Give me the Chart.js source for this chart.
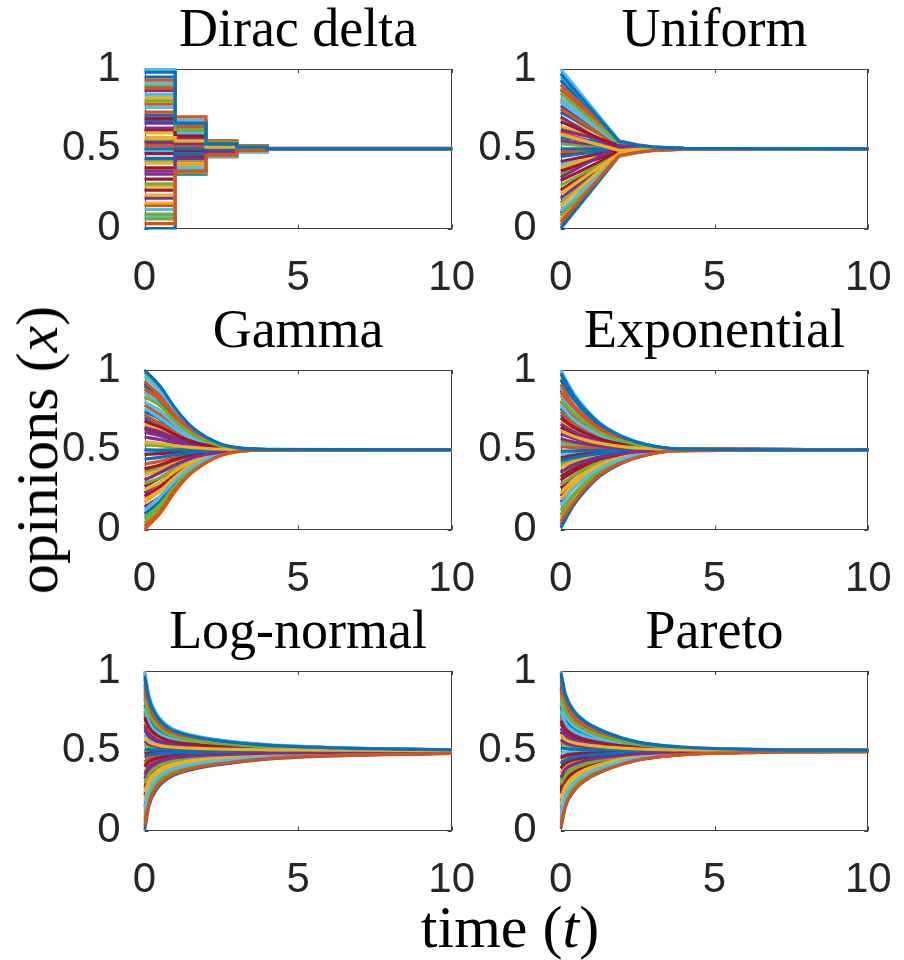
<!DOCTYPE html>
<html>
<head>
<meta charset="utf-8">
<script src="https://cdn.jsdelivr.net/npm/chart.js@4.4.1/dist/chart.umd.min.js"></script>
<style>
  body { margin: 0; background: #fff; }
  #page { position: relative; width: 904px; height: 960px; overflow: hidden; background: #fff; }
  .panel { position: absolute; }
  .axis-label { position: absolute; font-family: 'Liberation Serif', serif; font-size: 60px; color: #000; white-space: nowrap; line-height: 1; }
  #ylabel { left: 37px; top: 450px; transform: translate(-50%, -50%) rotate(-90deg); }
  #xlabel { left: 510px; top: 897px; transform: translateX(-50%); }
</style>
</head>
<body>
<div id="page">
  <div class="panel" style="left:0px;top:0px"><canvas id="c_dirac" width="480" height="300"></canvas></div>
  <div class="panel" style="left:480px;top:0px"><canvas id="c_uniform" width="424" height="300"></canvas></div>
  <div class="panel" style="left:0px;top:301px"><canvas id="c_gamma" width="480" height="300"></canvas></div>
  <div class="panel" style="left:480px;top:301px"><canvas id="c_exp" width="424" height="300"></canvas></div>
  <div class="panel" style="left:0px;top:602px"><canvas id="c_lognormal" width="480" height="300"></canvas></div>
  <div class="panel" style="left:480px;top:602px"><canvas id="c_pareto" width="424" height="300"></canvas></div>
  <div class="axis-label" id="ylabel">opinions (<i>x</i>)</div>
  <div class="axis-label" id="xlabel">time (<i>t</i>)</div>
</div>
<script>
// matlab default line colour order
var lineColors = ['#0072BD', '#D95319', '#EDB120', '#7E2F8E', '#77AC30', '#4DBEEE', '#A2142F'];

var xTicks = [0, 5, 10];
var yTicks = [0, 0.5, 1];

// Dirac delta: opinions jump once per unit of time
var diracTimes = [0, 1, 2, 3, 4, 10];
var diracLines = [
  [.98, .66, .53, .51, .5, .5], [.03, .36, .46, .49, .5, .5], [.57, .55, .51, .5, .5, .5],
  [.34, .44, .48, .495, .5, .5], [.80, .62, .54, .515, .501, .5], [.12, .38, .455, .485, .5, .5],
  [.69, .58, .52, .505, .5, .5], [.44, .47, .49, .497, .5, .5], [.93, .70, .55, .52, .502, .5],
  [.21, .41, .47, .49, .5, .5], [.63, .56, .525, .508, .5, .5], [.06, .35, .45, .483, .499, .5],
  [.76, .60, .535, .512, .5, .5], [.38, .45, .485, .496, .5, .5], [.50, .50, .50, .50, .5, .5],
  [.88, .64, .545, .518, .501, .5], [.16, .39, .462, .487, .5, .5], [.66, .57, .515, .506, .5, .5],
  [.28, .43, .475, .492, .5, .5], [1.0, .68, .55, .52, .502, .5], [.47, .49, .497, .499, .5, .5],
  [.00, .34, .45, .48, .499, .5], [.73, .59, .53, .51, .5, .5], [.41, .46, .488, .497, .5, .5],
  [.54, .53, .505, .502, .5, .5], [.09, .37, .458, .484, .5, .5], [.84, .63, .54, .514, .501, .5],
  [.24, .42, .472, .49, .5, .5], [.95, .67, .548, .519, .501, .5], [.52, .51, .502, .5, .5, .5],
  [.60, .54, .512, .504, .5, .5], [.19, .40, .466, .488, .5, .5], [.55, .52, .508, .503, .5, .5],
  [.91, .65, .542, .516, .501, .5], [.31, .44, .478, .493, .5, .5], [.71, .61, .528, .509, .5, .5],
  [.145, .385, .46, .487, .5, .5], [.265, .425, .474, .491, .5, .5], [.36, .455, .483, .494, .5, .5],
  [.425, .475, .492, .498, .5, .5], [.485, .495, .499, .5, .5, .5], [.615, .545, .513, .505, .5, .5],
  [.675, .575, .522, .507, .5, .5], [.78, .605, .537, .513, .5, .5], [.82, .625, .541, .514, .501, .5],
  [.865, .645, .544, .517, .501, .5], [.895, .655, .546, .518, .501, .5], [.075, .355, .452, .484, .499, .5]
];

// Uniform: straight lines into a waist near t = 1.9
var uniformTimes = [0, 1.9, 2.5, 3, 4, 10];
var uniformLines = [
  [.97, .545, .522, .51, .502, .5], [.04, .458, .478, .49, .498, .5], [.59, .49, .496, .499, .5, .5],
  [.32, .52, .51, .504, .501, .5], [.85, .535, .516, .507, .501, .5], [.11, .452, .476, .489, .497, .5],
  [.67, .512, .506, .503, .5, .5], [.45, .505, .503, .501, .5, .5], [.90, .548, .524, .511, .502, .5],
  [.22, .47, .486, .494, .499, .5], [.62, .525, .512, .505, .501, .5], [.08, .462, .481, .491, .498, .5],
  [.79, .53, .514, .506, .501, .5], [.36, .482, .491, .496, .499, .5], [.50, .5, .5, .5, .5, .5],
  [.87, .54, .519, .509, .502, .5], [.14, .475, .488, .495, .499, .5], [.70, .48, .49, .496, .499, .5],
  [.27, .466, .484, .493, .498, .5], [1.0, .55, .525, .512, .503, .5], [.42, .495, .497, .499, .5, .5],
  [.00, .455, .477, .489, .497, .5], [.75, .518, .509, .504, .501, .5], [.38, .51, .505, .502, .5, .5],
  [.55, .508, .504, .502, .5, .5], [.16, .46, .48, .491, .498, .5], [.82, .538, .518, .508, .502, .5],
  [.24, .486, .493, .497, .499, .5], [.93, .528, .514, .506, .501, .5], [.48, .497, .498, .499, .5, .5],
  [.64, .515, .507, .503, .501, .5], [.19, .468, .485, .493, .498, .5], [.53, .502, .501, .5, .5, .5],
  [.88, .532, .516, .507, .502, .5], [.30, .478, .489, .495, .499, .5], [.73, .526, .513, .506, .501, .5],
  [.02, .46, .479, .49, .498, .5], [.06, .472, .486, .494, .499, .5], [.095, .485, .492, .496, .499, .5],
  [.34, .522, .511, .505, .501, .5], [.40, .475, .488, .495, .499, .5], [.465, .498, .499, .5, .5, .5],
  [.57, .53, .515, .507, .501, .5], [.605, .488, .494, .498, .5, .5], [.69, .54, .52, .509, .502, .5],
  [.77, .512, .506, .503, .5, .5], [.805, .52, .51, .505, .501, .5], [.95, .535, .517, .508, .502, .5]
];

var gammaTimes = [0, 0.5, 1, 1.5, 2, 2.5, 3, 4, 10];
var gammaLines = [
  [1.0, .90, .76, .65, .58, .535, .513, .502, .5], [.02, .11, .25, .35, .42, .466, .488, .499, .5],
  [.55, .54, .526, .515, .508, .504, .501, .5, .5], [.31, .356, .406, .446, .471, .487, .495, .5, .5],
  [.83, .777, .68, .604, .555, .524, .509, .501, .5], [.12, .205, .308, .389, .441, .474, .491, .5, .5],
  [.68, .644, .594, .554, .529, .513, .505, .5, .5], [.44, .452, .469, .482, .49, .496, .499, .5, .5],
  [.93, .837, .719, .626, .567, .53, .511, .501, .5], [.25, .294, .366, .423, .459, .482, .494, .5, .5],
  [.61, .588, .557, .533, .518, .508, .503, .5, .5], [.07, .156, .276, .371, .431, .47, .489, .499, .5],
  [.76, .70, .63, .575, .54, .517, .506, .5, .5], [.38, .404, .438, .464, .481, .492, .497, .5, .5],
  [.50, .498, .499, .5, .5, .5, .5, .5, .5], [.88, .816, .706, .619, .563, .528, .51, .501, .5],
  [.17, .239, .33, .402, .448, .477, .492, .5, .5], [.64, .612, .573, .542, .522, .51, .504, .5, .5],
  [.29, .324, .385, .434, .465, .484, .495, .5, .5], [.96, .868, .739, .638, .574, .532, .512, .501, .5],
  [.47, .476, .484, .491, .495, .498, .499, .5, .5], [.10, .177, .29, .379, .435, .472, .49, .499, .5],
  [.72, .665, .608, .562, .533, .515, .505, .5, .5], [.34, .372, .417, .452, .474, .489, .496, .5, .5],
  [.58, .564, .542, .524, .513, .506, .502, .5, .5], [.04, .136, .263, .363, .427, .468, .489, .499, .5],
  [.80, .745, .659, .592, .549, .521, .508, .5, .5], [.21, .268, .349, .413, .454, .48, .493, .5, .5],
  [.90, .81, .702, .616, .562, .527, .51, .501, .5], [.41, .428, .453, .473, .486, .494, .498, .5, .5],
  [.66, .632, .586, .549, .526, .512, .504, .5, .5], [.14, .206, .309, .39, .441, .474, .491, .5, .5],
  [.53, .524, .516, .509, .505, .502, .501, .5, .5], [.86, .788, .687, .608, .558, .525, .509, .501, .5],
  [.27, .323, .385, .434, .465, .485, .494, .5, .5], [.74, .692, .625, .572, .538, .517, .506, .5, .5],
  [.00, .10, .24, .35, .42, .465, .488, .499, .5], [.19, .247, .336, .405, .449, .478, .492, .5, .5],
  [.23, .293, .365, .422, .458, .482, .494, .5, .5], [.36, .388, .427, .458, .478, .49, .497, .5, .5],
  [.485, .488, .492, .495, .498, .499, .5, .5, .5], [.63, .604, .568, .539, .521, .509, .503, .5, .5],
  [.70, .666, .608, .562, .533, .515, .505, .5, .5], [.78, .72, .643, .582, .544, .519, .507, .5, .5],
  [.845, .776, .679, .604, .555, .524, .509, .501, .5], [.915, .839, .72, .627, .568, .53, .511, .501, .5],
  [.985, .884, .75, .644, .577, .534, .512, .501, .5], [.085, .175, .288, .378, .435, .471, .49, .499, .5]
];

var expTimes = [0, 0.4, 0.8, 1.3, 2, 2.8, 3.8, 10];
var expLines = [
  [.98, .846, .75, .658, .582, .532, .506, .5], [.05, .166, .259, .347, .421, .469, .495, .5],
  [.62, .586, .562, .54, .52, .508, .501, .5], [.36, .404, .431, .456, .477, .491, .498, .5],
  [.81, .732, .668, .606, .555, .521, .504, .5], [.15, .253, .322, .387, .442, .477, .496, .5],
  [.70, .644, .604, .566, .534, .513, .502, .5], [.43, .45, .464, .477, .488, .495, .499, .5],
  [.91, .786, .707, .631, .568, .526, .505, .5], [.23, .302, .357, .409, .453, .482, .497, .5],
  [.57, .55, .536, .523, .512, .505, .501, .5], [.09, .205, .287, .365, .43, .473, .495, .5],
  [.78, .693, .64, .589, .546, .518, .503, .5], [.33, .378, .412, .444, .471, .489, .498, .5],
  [.49, .493, .495, .497, .498, .499, .5, .5], [.86, .772, .697, .625, .564, .525, .505, .5],
  [.19, .279, .34, .399, .448, .48, .496, .5], [.66, .615, .583, .553, .527, .511, .502, .5],
  [.28, .335, .381, .425, .461, .485, .497, .5], [1.0, .86, .76, .665, .585, .533, .506, .5],
  [.45, .464, .474, .483, .491, .497, .499, .5], [.01, .147, .245, .338, .417, .468, .494, .5],
  [.74, .664, .619, .575, .539, .515, .503, .5], [.39, .421, .443, .464, .481, .493, .499, .5],
  [.60, .572, .552, .533, .517, .507, .501, .5], [.12, .218, .296, .371, .433, .474, .495, .5],
  [.84, .745, .677, .612, .558, .522, .504, .5], [.26, .332, .379, .423, .46, .485, .497, .5],
  [.94, .823, .733, .648, .576, .53, .505, .5], [.52, .514, .51, .507, .503, .501, .5, .5],
  [.68, .636, .598, .562, .532, .512, .502, .5], [.17, .262, .328, .391, .444, .478, .496, .5],
  [.55, .536, .526, .517, .509, .503, .501, .5], [.89, .775, .699, .626, .565, .525, .505, .5],
  [.31, .362, .40, .437, .467, .487, .498, .5], [.76, .687, .635, .586, .544, .517, .503, .5],
  [.03, .162, .256, .345, .42, .469, .494, .5], [.07, .20, .283, .362, .429, .472, .495, .5],
  [.21, .285, .345, .401, .449, .48, .497, .5], [.41, .435, .453, .47, .485, .494, .499, .5],
  [.47, .478, .484, .49, .495, .498, .5, .5], [.64, .601, .573, .546, .524, .509, .502, .5],
  [.72, .661, .617, .574, .538, .515, .503, .5], [.80, .709, .651, .596, .55, .519, .503, .5],
  [.96, .831, .739, .652, .578, .53, .506, .5], [.875, .778, .701, .628, .566, .526, .505, .5],
  [.35, .392, .422, .45, .474, .49, .498, .5], [.54, .529, .521, .513, .507, .503, .5, .5]
];

var lognormalTimes = [0, 0.15, 0.4, 0.8, 1.5, 2.5, 4, 6.5, 10];
var lognormalLines = [
  [.97, .82, .716, .641, .594, .561, .535, .516, .506], [.03, .18, .274, .34, .387, .42, .451, .472, .484],
  [.58, .554, .537, .524, .516, .51, .506, .503, .501], [.35, .403, .432, .452, .466, .476, .485, .491, .495],
  [.82, .728, .655, .601, .567, .544, .525, .512, .504], [.13, .256, .328, .378, .414, .439, .462, .479, .488],
  [.71, .643, .597, .563, .542, .527, .516, .507, .503], [.46, .473, .481, .486, .49, .493, .496, .498, .499],
  [.92, .78, .689, .623, .582, .553, .531, .514, .505], [.24, .318, .372, .409, .436, .454, .472, .484, .491],
  [.63, .588, .56, .539, .526, .517, .51, .505, .502], [.08, .214, .298, .357, .399, .429, .456, .475, .486],
  [.77, .676, .619, .578, .552, .534, .519, .509, .503], [.40, .432, .452, .466, .476, .483, .49, .494, .497],
  [.51, .507, .505, .503, .502, .501, .501, .5, .5], [.87, .762, .677, .615, .577, .55, .529, .513, .505],
  [.18, .285, .348, .392, .424, .446, .467, .481, .489], [.65, .602, .569, .545, .53, .52, .511, .505, .502],
  [.30, .357, .399, .429, .45, .464, .478, .487, .493], [1.0, .84, .73, .65, .60, .565, .538, .518, .506],
  [.48, .486, .49, .493, .495, .497, .498, .499, .499], [.00, .16, .26, .33, .38, .415, .448, .47, .483],
  [.73, .649, .60, .566, .544, .528, .516, .508, .503], [.37, .412, .438, .456, .469, .478, .486, .492, .496],
  [.56, .541, .528, .518, .512, .508, .505, .502, .501], [.11, .227, .307, .363, .404, .432, .458, .476, .486],
  [.85, .738, .661, .605, .57, .546, .526, .512, .504], [.22, .315, .37, .408, .435, .454, .471, .484, .491],
  [.95, .812, .711, .638, .592, .56, .534, .516, .505], [.43, .452, .466, .476, .483, .488, .493, .496, .498],
  [.69, .636, .592, .56, .54, .526, .515, .507, .502], [.15, .262, .332, .381, .416, .44, .463, .479, .488],
  [.54, .527, .518, .512, .508, .505, .503, .501, .5], [.90, .766, .68, .618, .578, .551, .529, .514, .505],
  [.27, .342, .388, .421, .444, .46, .476, .486, .492], [.79, .697, .633, .587, .558, .538, .522, .51, .503],
  [.055, .197, .286, .349, .393, .424, .453, .473, .485], [.195, .288, .351, .394, .425, .447, .467, .481, .489],
  [.325, .381, .416, .44, .458, .47, .482, .489, .494], [.415, .442, .459, .471, .48, .486, .491, .495, .497],
  [.60, .568, .546, .53, .52, .513, .508, .504, .501], [.67, .619, .581, .553, .535, .523, .513, .506, .502],
  [.75, .665, .612, .573, .549, .532, .518, .509, .503], [.835, .728, .654, .60, .567, .544, .525, .512, .504],
  [.885, .767, .681, .618, .579, .551, .529, .514, .505], [.99, .83, .723, .646, .597, .563, .536, .517, .506],
  [.495, .496, .497, .498, .499, .499, .5, .5, .5], [.255, .337, .385, .418, .442, .459, .475, .486, .492]
];

var paretoTimes = [0, 0.15, 0.4, 0.8, 1.5, 2.5, 4, 6.5, 10];
var paretoLines = [
  [.99, .853, .755, .681, .613, .554, .522, .507, .503], [.02, .154, .246, .318, .385, .442, .476, .49, .495],
  [.60, .572, .552, .537, .523, .511, .505, .502, .501], [.33, .384, .414, .439, .461, .481, .492, .497, .498],
  [.84, .755, .684, .631, .581, .539, .516, .505, .502], [.10, .221, .294, .352, .407, .454, .481, .492, .496],
  [.69, .637, .599, .57, .544, .521, .509, .503, .501], [.42, .442, .458, .47, .481, .49, .496, .498, .499],
  [.94, .811, .724, .66, .599, .548, .519, .506, .503], [.20, .277, .336, .383, .426, .463, .485, .494, .497],
  [.64, .601, .573, .552, .532, .515, .506, .502, .501], [.06, .183, .267, .333, .394, .447, .478, .491, .496],
  [.75, .673, .625, .589, .555, .526, .511, .504, .501], [.39, .421, .442, .458, .474, .487, .494, .498, .499],
  [.52, .514, .51, .507, .505, .502, .501, .5, .5], [.88, .785, .706, .646, .591, .543, .518, .506, .502],
  [.16, .258, .321, .372, .419, .46, .483, .493, .497], [.67, .622, .588, .563, .539, .519, .508, .503, .501],
  [.29, .341, .383, .416, .447, .474, .489, .496, .498], [1.0, .86, .76, .685, .615, .555, .523, .508, .503],
  [.46, .471, .479, .485, .49, .495, .498, .499, .5], [.01, .147, .24, .314, .382, .441, .476, .49, .495],
  [.72, .65, .609, .577, .548, .523, .509, .503, .501], [.36, .399, .426, .447, .466, .483, .493, .497, .499],
  [.57, .55, .536, .526, .516, .508, .503, .501, .5], [.13, .225, .298, .355, .409, .454, .481, .492, .496],
  [.81, .723, .661, .615, .571, .534, .514, .505, .502], [.25, .325, .371, .408, .442, .471, .488, .495, .498],
  [.91, .801, .717, .655, .596, .546, .519, .506, .502], [.45, .464, .474, .481, .488, .494, .498, .499, .5],
  [.71, .659, .615, .582, .551, .524, .51, .503, .501], [.18, .27, .33, .378, .423, .462, .484, .494, .497],
  [.55, .536, .526, .519, .512, .506, .502, .501, .5], [.86, .754, .684, .631, .581, .539, .516, .505, .502],
  [.23, .304, .356, .396, .435, .467, .486, .495, .497], [.78, .702, .646, .604, .564, .531, .513, .504, .502],
  [.04, .169, .256, .325, .39, .445, .477, .491, .495], [.08, .203, .282, .344, .401, .45, .479, .492, .496],
  [.27, .329, .374, .41, .443, .471, .488, .495, .498], [.31, .363, .399, .428, .454, .477, .49, .496, .498],
  [.49, .493, .495, .496, .498, .499, .5, .5, .5], [.62, .586, .562, .544, .528, .513, .505, .502, .501],
  [.735, .673, .625, .589, .555, .526, .511, .504, .501], [.795, .706, .649, .606, .566, .532, .513, .504, .502],
  [.825, .734, .669, .62, .575, .536, .515, .505, .502], [.895, .793, .712, .65, .594, .545, .518, .506, .502],
  [.965, .828, .737, .669, .605, .55, .52, .507, .503], [.145, .242, .31, .364, .414, .457, .482, .493, .496]
];

// axes box plus inward ticks, drawn under the data like matlab's default layer
var boxFrame = {
  id: 'boxFrame',
  beforeDatasetsDraw: function(chart) {
    var ctx = chart.ctx;
    var a = chart.chartArea;
    var sx = chart.scales.x;
    var sy = chart.scales.y;
    var tick = 4;
    ctx.save();
    ctx.strokeStyle = '#404040';
    ctx.lineWidth = 1;
    ctx.strokeRect(Math.round(a.left) + 0.5, Math.round(a.top) + 0.5,
      Math.round(a.right) - Math.round(a.left) - 1, Math.round(a.bottom) - Math.round(a.top) - 1);
    ctx.beginPath();
    sx.ticks.forEach(function(t) {
      var px = Math.round(sx.getPixelForValue(t.value)) + 0.5;
      ctx.moveTo(px, a.top); ctx.lineTo(px, a.top + tick);
      ctx.moveTo(px, a.bottom); ctx.lineTo(px, a.bottom - tick);
    });
    sy.ticks.forEach(function(t) {
      var py = Math.round(sy.getPixelForValue(t.value)) + 0.5;
      ctx.moveTo(a.left, py); ctx.lineTo(a.left + tick, py);
      ctx.moveTo(a.right, py); ctx.lineTo(a.right - tick, py);
    });
    ctx.stroke();
    ctx.restore();
  }
};

function makePanel(canvasId, title, times, lines, leftColumn, mode) {
  var datasets = lines.map(function(vals, i) {
    return {
      data: vals.map(function(v, k) { return { x: times[k], y: v }; }),
      borderColor: lineColors[i % lineColors.length],
      borderWidth: 3.2,
      pointRadius: 0,
      fill: false,
      clip: 1,
      stepped: mode === 'step' ? 'before' : false,
      cubicInterpolationMode: mode === 'smooth' ? 'monotone' : 'default',
      tension: 0
    };
  });

  var labelFamily = "'Liberation Sans', Arial, sans-serif";

  return new Chart(document.getElementById(canvasId), {
    type: 'line',
    data: { datasets: datasets },
    options: {
      responsive: false,
      animation: false,
      devicePixelRatio: 1,
      events: [],
      layout: { padding: { left: 0, top: 0, bottom: 0, right: leftColumn ? 28.3 : 35.7 } },
      plugins: {
        legend: { display: false },
        tooltip: { enabled: false },
        title: {
          display: true,
          fullSize: false,
          text: title,
          color: '#000',
          font: { family: "'Liberation Serif', serif", size: 54, weight: 'normal', lineHeight: 1 },
          padding: { top: 5, bottom: 10 }
        }
      },
      scales: {
        x: {
          type: 'linear',
          min: xTicks[0],
          max: xTicks[xTicks.length - 1],
          afterBuildTicks: function(scale) { scale.ticks = xTicks.map(function(v) { return { value: v }; }); },
          // tall line box instead of tick padding keeps the right edge free
          ticks: { color: '#262626', font: { family: labelFamily, size: 42, lineHeight: 83 / 42 }, padding: 0, maxRotation: 0,
                   callback: function(v) { return String(v); } },
          grid: { display: false },
          border: { display: false },
          afterFit: function(scale) { scale.height = 71.5; }
        },
        y: {
          type: 'linear',
          min: yTicks[0],
          max: yTicks[yTicks.length - 1],
          afterBuildTicks: function(scale) { scale.ticks = yTicks.map(function(v) { return { value: v }; }); },
          ticks: { color: '#262626', font: { family: labelFamily, size: 42, lineHeight: 1 }, padding: 16,
                   callback: function(v) { return String(v); } },
          grid: { display: false },
          border: { display: false },
          afterFit: function(scale) { scale.width = leftColumn ? 144.5 : 80.7; }
        }
      }
    },
    plugins: [boxFrame]
  });
}

makePanel('c_dirac', 'Dirac delta', diracTimes, diracLines, true, 'step');
makePanel('c_uniform', 'Uniform', uniformTimes, uniformLines, false, 'straight');
makePanel('c_gamma', 'Gamma', gammaTimes, gammaLines, true, 'smooth');
makePanel('c_exp', 'Exponential', expTimes, expLines, false, 'smooth');
makePanel('c_lognormal', 'Log-normal', lognormalTimes, lognormalLines, true, 'smooth');
makePanel('c_pareto', 'Pareto', paretoTimes, paretoLines, false, 'smooth');
</script>
</body>
</html>
